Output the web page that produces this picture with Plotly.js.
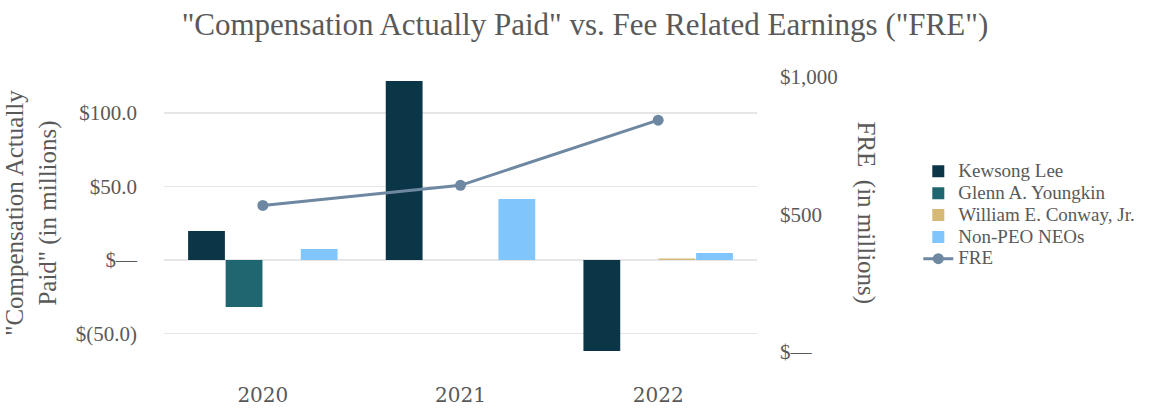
<!DOCTYPE html>
<html>
<head>
<meta charset="utf-8">
<script src="https://cdn.plot.ly/plotly-3.0.1.min.js"></script>
<style>html,body{margin:0;padding:0;background:#fff;}#chart{width:1156px;height:408px;}</style>
</head>
<body>
<div id="chart"></div>
<script>
const years = ['2020', '2021', '2022'];
const seriesNames = ['Kewsong Lee', 'Glenn A. Youngkin', 'William E. Conway, Jr.', 'Non-PEO NEOs', 'FRE'];
const kewsongLee = [19.7, 121.8, -62.0];
const glennYoungkin = [-32.0, 0, 0];
const williamConway = [0, 0, 1.0];
const nonPeoNeos = [7.5, 41.5, 4.8];
const fre = [533, 606, 843];

const leftTickVals = [-50, 0, 50, 100];
const leftTickText = ['$(50.0)', '$\u2014', '$50.0', '$100.0'];
const rightTickVals = [0, 500, 1000];
const rightTickText = ['$\u2014', '$500', '$1,000'];

const FONT = '"Liberation Serif", "DejaVu Serif", serif';
const WIDE = '"DejaVu Serif", serif';
const GREY = '#595959';

function legendName(n) { return '<span style="font-size:19px">' + n + '</span>'; }

function barTrace(name, values, color) {
  return {type: 'bar', name: legendName(name), x: years, y: values, marker: {color: color, line: {width: 0}}, yaxis: 'y', hoverinfo: 'skip'};
}

const traces = [
  barTrace(seriesNames[0], kewsongLee, '#0B3648'),
  barTrace(seriesNames[1], glennYoungkin, '#1F6670'),
  barTrace(seriesNames[2], williamConway, '#D6B877'),
  barTrace(seriesNames[3], nonPeoNeos, '#80C6FC'),
  {type: 'scatter', mode: 'lines+markers', name: legendName(seriesNames[4]), x: years, y: fre, yaxis: 'y2',
   line: {color: '#6E88A2', width: 3}, marker: {color: '#6E88A2', size: 11}, hoverinfo: 'skip'}
];

const layout = {
  width: 1156, height: 408,
  margin: {l: 164, r: 399, t: 69, b: 51},
  paper_bgcolor: '#fff', plot_bgcolor: '#fff',
  font: {family: FONT, color: GREY, size: 18},
  title: {text: '"Compensation Actually Paid" vs. Fee Related Earnings ("FRE")',
          font: {family: FONT, size: 31, color: GREY}, x: 0.506, xanchor: 'center', y: 0.94, yanchor: 'middle'},
  barmode: 'group', bargap: 0.24, bargroupgap: 0.02,
  showlegend: true,
  legend: {x: 1.272, xanchor: 'left', y: 0.70, yanchor: 'top', font: {family: FONT, size: 14.5, color: GREY},
           bgcolor: 'rgba(0,0,0,0)', tracegroupgap: 0, borderwidth: 0},
  xaxis: {type: 'category', range: [-0.5, 2.5], showgrid: false, zeroline: false, showline: false, ticks: '',
          tickfont: {family: WIDE, size: 20, color: GREY}, ticklabelstandoff: 24},
  yaxis: {range: [-66, 129.9], tickvals: leftTickVals, ticktext: leftTickText, showgrid: true, gridcolor: '#E6E6E6', gridwidth: 1.5,
          zeroline: false, showline: false, ticks: '', ticklabelstandoff: 26,
          tickfont: {family: FONT, size: 21, color: GREY},
          title: {text: '"Compensation Actually<br>Paid" (in millions)', font: {family: FONT, size: 25, color: GREY}, standoff: 12}},
  yaxis2: {overlaying: 'y', side: 'right', range: [-18.2, 1029], tickvals: rightTickVals, ticktext: rightTickText,
           showgrid: false, zeroline: false, showline: false, ticks: '', ticklabelstandoff: 22,
           tickfont: {family: FONT, size: 21, color: GREY}},
  annotations: [
    {text: 'FRE  (in millions)', xref: 'paper', yref: 'paper', x: 1.183, y: 0.5, xanchor: 'center', yanchor: 'middle',
     textangle: 90, showarrow: false, font: {family: FONT, size: 25, color: GREY}}
  ]
};

Plotly.newPlot('chart', traces, layout, {displayModeBar: false, staticPlot: true});
</script>
</body>
</html>
